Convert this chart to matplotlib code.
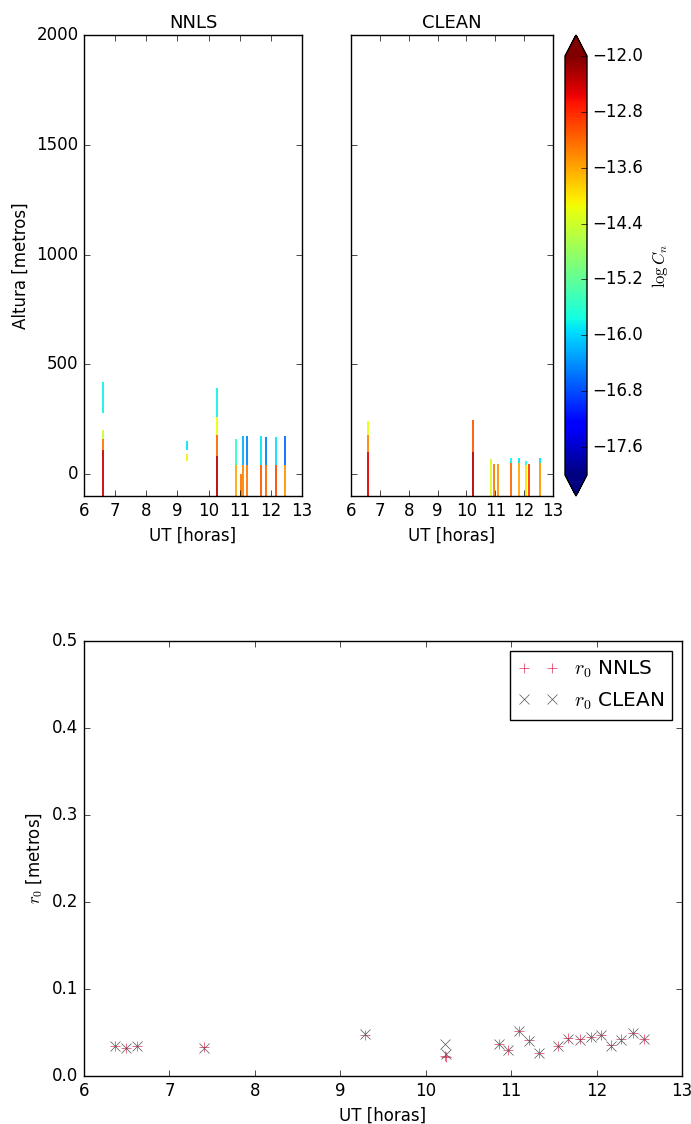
import numpy as np
import matplotlib
matplotlib.use('Agg')
import matplotlib.pyplot as plt
from matplotlib.colors import Normalize
from matplotlib.ticker import FuncFormatter

plt.style.use('classic')

# Perfis de Cn2: cada segmento = (hora, altura inicial, altura final, log Cn)
nnls_hora = [6.61, 6.61, 6.61, 6.61, 9.30, 9.30, 10.26, 10.26, 10.26, 10.26,
             10.87, 10.87, 11.03, 11.11, 11.11, 11.24, 11.24, 11.68, 11.68,
             11.83, 11.83, 12.18, 12.18, 12.46, 12.46]
nnls_h0 = [-100, 110, 160, 280, 60, 110, -100, 80, 180, 260,
           -100, 40, -100, -100, 40, -100, 40, -100, 40,
           -100, 40, -100, 40, -100, 40]
nnls_h1 = [110, 160, 200, 420, 90, 150, 80, 180, 260, 390,
           40, 160, 0, 40, 175, 40, 175, 40, 175,
           40, 170, 40, 170, 40, 175]
nnls_logcn = [-12.4, -13.3, -14.5, -15.8, -14.1, -15.9, -12.3, -13.2, -14.2, -15.8,
              -13.6, -15.6, -13.3, -13.4, -16.2, -13.3, -16.5, -13.1, -15.9,
              -13.2, -16.5, -13.0, -15.9, -13.5, -16.6]

clean_hora = [6.59, 6.59, 6.59, 10.23, 10.23, 10.86, 10.97, 11.11,
              11.56, 11.56, 11.83, 11.83, 12.06, 12.06, 12.18, 12.55, 12.55]
clean_h0 = [-100, 100, 180, -100, 100, -100, -100, -100,
            -100, 50, -100, 50, -100, 40, -100, -100, 50]
clean_h1 = [100, 180, 240, 100, 245, 70, 45, 45,
            50, 75, 50, 75, 40, 60, 45, 50, 75]
clean_logcn = [-12.5, -13.4, -14.2, -12.3, -13.1, -14.3, -13.3, -13.5,
               -13.2, -15.8, -13.6, -15.9, -14.0, -15.7, -12.9, -13.5, -15.9]

# r0 estimado
r0_hora = [6.36, 6.49, 6.62, 7.40, 9.29, 10.23, 10.24, 10.86, 10.96, 11.09,
           11.21, 11.33, 11.55, 11.67, 11.81, 11.94, 12.05, 12.17, 12.29,
           12.43, 12.55]
r0_nnls = [0.034, 0.032, 0.034, 0.033, 0.047, 0.023, 0.022, 0.037, 0.030, 0.052,
           0.041, 0.027, 0.034, 0.044, 0.042, 0.045, 0.047, 0.036, 0.042,
           0.050, 0.042]
r0_clean = [0.034, 0.032, 0.034, 0.032, 0.048, 0.037, 0.025, 0.037, 0.030, 0.052,
            0.040, 0.027, 0.034, 0.043, 0.041, 0.045, 0.047, 0.035, 0.041,
            0.049, 0.043]

W, H = 691, 1124
fig = plt.figure(figsize=(W / 100, H / 100), dpi=100, facecolor='white')

def caixa(x0, y0, x1, y1):
    return [x0 / W, 1 - y1 / H, (x1 - x0) / W, (y1 - y0) / H]

cmap = plt.get_cmap('jet')
norm = Normalize(vmin=-18, vmax=-12)

ax1 = fig.add_axes(caixa(84, 35, 302, 496))
ax2 = fig.add_axes(caixa(351, 35, 553, 496), sharey=ax1)
cax = fig.add_axes(caixa(565, 35, 587, 496))
ax3 = fig.add_axes(caixa(84, 641, 682, 1076))

for ax, titulo, hora, h0, h1, val in [
        (ax1, 'NNLS', nnls_hora, nnls_h0, nnls_h1, nnls_logcn),
        (ax2, 'CLEAN', clean_hora, clean_h0, clean_h1, clean_logcn)]:
    ax.vlines(hora, h0, h1, colors=cmap(norm(np.array(val))), linewidth=1.3)
    ax.set_title(titulo, fontsize=13)
    ax.set_xlim(6, 13)
    ax.set_ylim(-100, 2000)
    ax.set_xticks(range(6, 14))
    ax.set_yticks([0, 500, 1000, 1500, 2000])
    ax.set_xlabel('UT [horas]')
ax1.set_ylabel('Altura [metros]')
plt.setp(ax2.get_yticklabels(), visible=False)

sm = plt.cm.ScalarMappable(norm=norm, cmap=cmap)
fmt = FuncFormatter(lambda v, p: f'{v:.1f}'.replace('-', '\u2212'))
cb = fig.colorbar(sm, cax=cax, extend='both', ticks=np.arange(-12, -18, -0.8), format=fmt)
cb.set_label(r'$\log C_n$')

ax3.plot(r0_hora, r0_nnls, '+', color='#e0305a', markersize=7, label=r'$r_0$ NNLS')
ax3.plot(r0_hora, r0_clean, 'x', color='#555555', markersize=7, label=r'$r_0$ CLEAN')
ax3.set_xlim(6, 13)
ax3.set_ylim(0, 0.5)
ax3.set_xlabel('UT [horas]')
ax3.set_ylabel(r'$r_0$ [metros]')
ax3.legend(loc='upper right', numpoints=2)

fig.savefig('out.png', dpi=100, facecolor='white')
